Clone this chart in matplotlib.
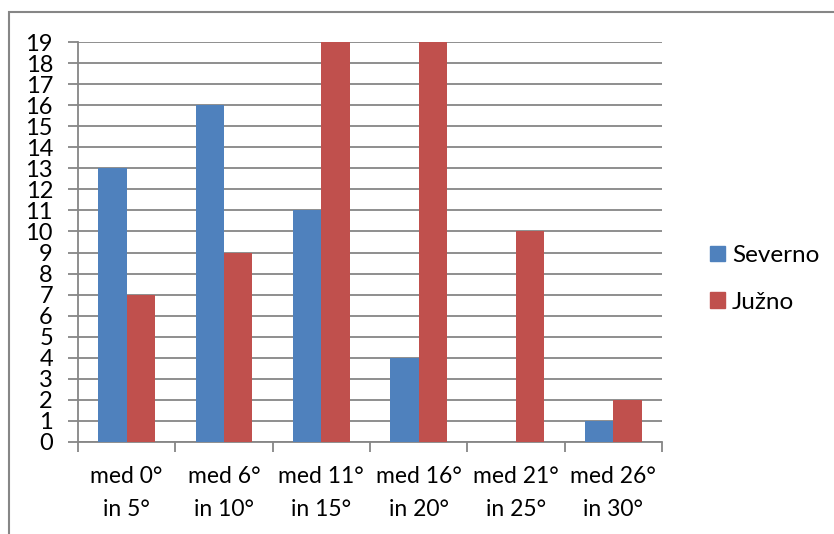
import matplotlib
matplotlib.use("Agg")
import matplotlib.pyplot as plt
from matplotlib.patches import Rectangle, Patch
import numpy as np

categories = ["med 0°\nin 5°", "med 6°\nin 10°", "med 11°\nin 15°",
              "med 16°\nin 20°", "med 21°\nin 25°", "med 26°\nin 30°"]
severno = [13, 16, 11, 4, 0, 1]
juzno = [7, 9, 19, 19, 10, 2]
y_ticks = list(range(0, 20))

plt.rcParams['font.family'] = ['Lato', 'DejaVu Sans']

W, H = 834, 534
fig = plt.figure(figsize=(W/100, H/100), dpi=100)
ax = fig.add_axes([78/W, 1-442/H, (662-78)/W, (442-42)/H])

x = np.arange(len(categories))
bw = 0.29
ax.bar(x - bw/2, severno, width=bw, color='#4F81BD', zorder=3)
ax.bar(x + bw/2, juzno, width=bw, color='#C0504D', zorder=3)

ax.set_xlim(-0.5, len(categories) - 0.5)
ax.set_ylim(0, 19)
ax.set_yticks(y_ticks)
ax.set_yticklabels([str(v) for v in y_ticks], fontsize=17)
ax.yaxis.grid(True, color='#868686', linewidth=1.3, zorder=0)
ax.set_axisbelow(True)

ax.set_xticks(np.arange(-0.5, len(categories)), minor=False)
ax.set_xticklabels([])
ax.set_xticks(x, minor=True)
ax.set_xticklabels(categories, minor=True, fontsize=16.5, linespacing=1.75)
ax.tick_params(axis='x', which='major', length=7, width=1.3, color='#868686')
ax.tick_params(axis='x', which='minor', length=0, pad=17)
ax.tick_params(axis='y', length=7, width=1.3, color='#868686', pad=11)

for s in ['top', 'right']:
    ax.spines[s].set_visible(False)
for s in ['left', 'bottom']:
    ax.spines[s].set_color('#868686')
    ax.spines[s].set_linewidth(1.3)

handles = [Patch(color='#4F81BD', label='Severno'), Patch(color='#C0504D', label='Južno')]
fig.legend(handles=handles, loc='center left', bbox_to_anchor=(698/W, 1-279/H),
           frameon=False, fontsize=17.5, handlelength=0.6, handleheight=0.6,
           handletextpad=0.3, labelspacing=1.05, borderpad=0)

fig.patches.append(Rectangle((9/W, -0.1), 2, 1 - 12/H + 0.1, transform=fig.transFigure,
                             fill=False, edgecolor='#868686', linewidth=1.5))

fig.savefig("out.png", dpi=100)
